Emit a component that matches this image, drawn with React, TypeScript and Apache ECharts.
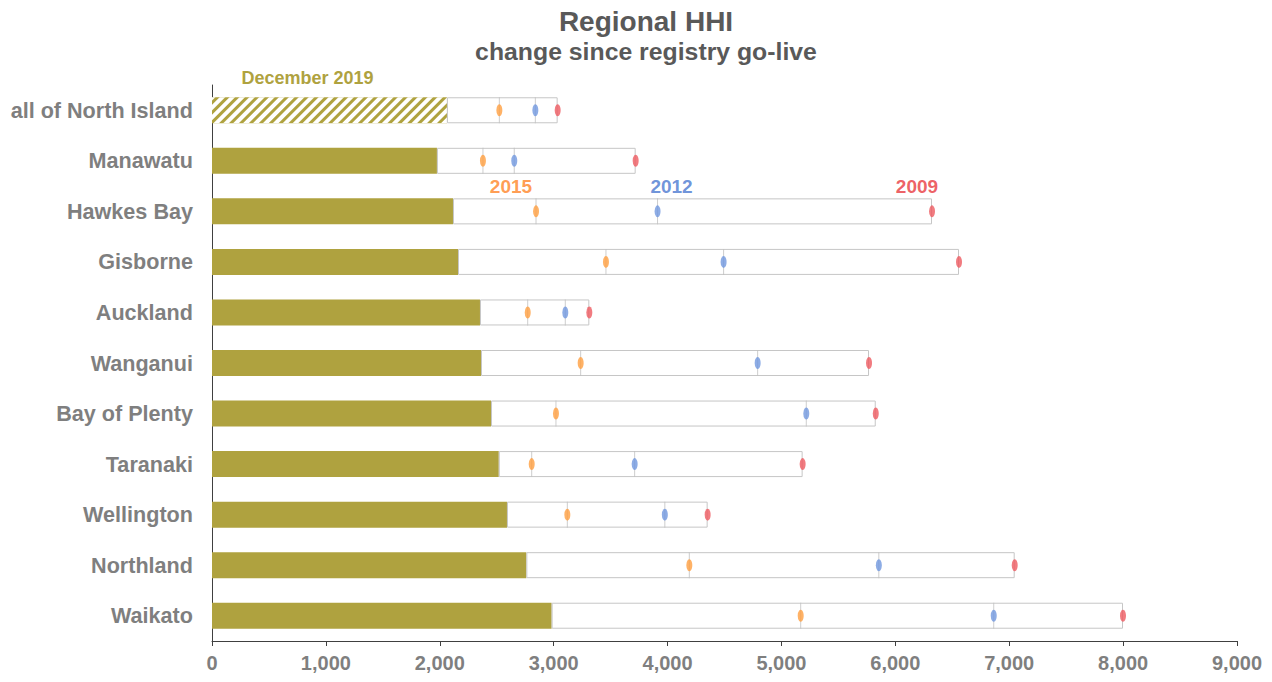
import React, { useEffect, useRef } from "react";
import * as echarts from "echarts";

const categories = [
  "all of North Island",
  "Manawatu",
  "Hawkes Bay",
  "Gisborne",
  "Auckland",
  "Wanganui",
  "Bay of Plenty",
  "Taranaki",
  "Wellington",
  "Northland",
  "Waikato",
];
const hhi2019 = [2063, 1975, 2116, 2160, 2353, 2362, 2450, 2518, 2590, 2760, 2982];
const hhi2015 = [2523, 2379, 2845, 3459, 2772, 3237, 3020, 2807, 3120, 4191, 5169];
const hhi2012 = [2839, 2654, 3912, 4492, 3102, 4791, 5218, 3711, 3976, 5855, 6864];
const hhi2009 = [3035, 3720, 6322, 6559, 3313, 5769, 5828, 5186, 4352, 7048, 7999];
const xTicks = { min: 0, max: 9000, interval: 1000 };

const GOLD = "#afa23f";
const FONT = "'Liberation Sans', Arial, sans-serif";
const LABEL_ROW = "Hawkes Bay";

export default function App() {
  const ref = useRef<HTMLDivElement>(null);
  useEffect(() => {
    if (!ref.current) return;
    const chart = echarts.init(ref.current, null, { renderer: "svg" });
    const pts = (arr: number[]) => arr.map((v, i) => [v, categories[i]]);
    const markerLabel = (text: string, color: string, dx: number) => ({
      show: true,
      position: "top",
      distance: 9,
      offset: [dx, 0],
      formatter: (p: any) => (p.value[1] === LABEL_ROW ? text : ""),
      color,
      fontSize: 19,
      fontWeight: "bold",
      fontFamily: FONT,
    });
    chart.setOption({
      animation: false,
      textStyle: { fontFamily: FONT },
      title: [
        {
          text: "Regional HHI",
          left: 641,
          textAlign: "center",
          top: 2,
          textStyle: { fontSize: 28, fontWeight: "bold", color: "#595959", fontFamily: FONT },
        },
        {
          text: "change since registry go-live",
          left: 641,
          textAlign: "center",
          top: 34,
          textStyle: { fontSize: 24.8, fontWeight: "bold", color: "#595959", fontFamily: FONT },
        },
      ],
      grid: { left: 212, right: 35, top: 85, bottom: 41 },
      xAxis: {
        type: "value",
        min: xTicks.min,
        max: xTicks.max,
        interval: xTicks.interval,
        splitLine: { show: false },
        axisLine: { show: true, lineStyle: { color: "#404040", width: 1 } },
        axisTick: { show: true, length: 5, lineStyle: { color: "#404040" } },
        axisLabel: {
          color: "#7f7f7f",
          fontSize: 20,
          fontWeight: "bold",
          fontFamily: FONT,
          margin: 12,
          formatter: (v: number) => v.toLocaleString("en-US"),
        },
      },
      yAxis: {
        type: "category",
        data: categories,
        inverse: true,
        axisLine: { show: true, lineStyle: { color: "#404040", width: 1 } },
        axisTick: { show: false },
        axisLabel: {
          color: "#7f7f7f",
          fontSize: 21.6,
          fontWeight: "bold",
          fontFamily: FONT,
          margin: 19,
        },
      },
      series: [
        {
          type: "bar",
          name: "December 2019",
          stack: "a",
          barWidth: 26,
          data: hhi2019.map((v, i) =>
            i === 0
              ? {
                  value: v,
                  itemStyle: {
                    color: GOLD,
                    decal: {
                      symbol: "rect",
                      color: "#ffffff",
                      dashArrayX: [1, 0],
                      dashArrayY: [4, 3],
                      rotation: -Math.PI / 4,
                    },
                  },
                  label: {
                    show: true,
                    position: "top",
                    distance: 10,
                    offset: [-22, 0],
                    formatter: "December 2019",
                    color: GOLD,
                    fontSize: 18,
                    fontWeight: "bold",
                    fontFamily: FONT,
                  },
                }
              : v
          ),
          itemStyle: { color: GOLD },
          z: 2,
        },
        {
          type: "bar",
          name: "range",
          stack: "a",
          barWidth: 26,
          data: hhi2009.map((v, i) => v - hhi2019[i]),
          itemStyle: { color: "#ffffff", borderColor: "#c6c6c6", borderWidth: 1 },
          z: 2,
        },
        {
          type: "scatter",
          name: "line2015",
          data: pts(hhi2015),
          symbol: "rect",
          symbolSize: [1, 26],
          itemStyle: { color: "#c0c0c0" },
          z: 3,
          silent: true,
        },
        {
          type: "scatter",
          name: "line2012",
          data: pts(hhi2012),
          symbol: "rect",
          symbolSize: [1, 26],
          itemStyle: { color: "#c0c0c0" },
          z: 3,
          silent: true,
        },
        {
          type: "scatter",
          name: "2015",
          data: pts(hhi2015),
          symbol: "circle",
          symbolSize: [6, 12],
          itemStyle: { color: "#ff9f40" },
          label: markerLabel("2015", "#ff8426", -25),
          z: 4,
        },
        {
          type: "scatter",
          name: "2012",
          data: pts(hhi2012),
          symbol: "circle",
          symbolSize: [6, 12],
          itemStyle: { color: "#7097de" },
          label: markerLabel("2012", "#4a78d0", 14),
          z: 4,
        },
        {
          type: "scatter",
          name: "2009",
          data: pts(hhi2009),
          symbol: "circle",
          symbolSize: [6, 12],
          itemStyle: { color: "#ee5a60" },
          label: markerLabel("2009", "#e8383d", -15),
          z: 4,
        },
      ],
    });
    return () => chart.dispose();
  }, []);
  return (
    <div
      ref={ref}
      style={{ position: "fixed", left: 0, top: 0, width: 1272, height: 682, background: "#fff" }}
    />
  );
}
